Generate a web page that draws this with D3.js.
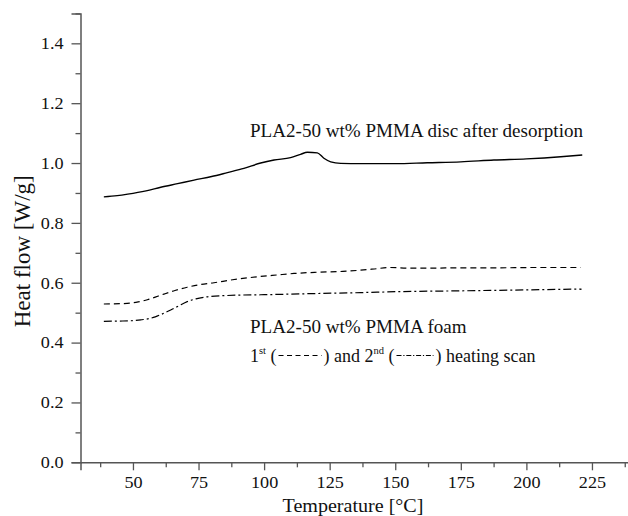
<!DOCTYPE html>
<html>
<head>
<meta charset="utf-8">
<script src="https://cdn.jsdelivr.net/npm/d3@7"></script>
<style>
  html, body { margin: 0; padding: 0; background: #fff; }
  svg { display: block; }
  text { font-family: "Liberation Serif", "Times New Roman", serif; fill: #111; }
</style>
</head>
<body>
<svg id="chart" width="628" height="516"></svg>
<script>
// DSC heating scans: temperature (°C) vs heat flow (W/g)
const discTemp = [38.9, 44, 48, 55, 60.6, 67, 73.3, 80, 86, 92.3, 98.7, 103.8, 110.1, 113.9, 116.5, 120.3, 122.8, 125.4, 129.2, 136.8, 150, 162.2, 175, 187.6, 200, 213.1, 221.3];
const discFlow = [0.887, 0.891, 0.896, 0.907, 0.919, 0.931, 0.943, 0.955, 0.968, 0.982, 1.000, 1.010, 1.018, 1.029, 1.036, 1.034, 1.016, 1.004, 0.999, 0.998, 0.998, 1.001, 1.004, 1.010, 1.014, 1.021, 1.027];

const foam1Temp = [38.9, 45, 49.1, 52, 55.5, 58.5, 61.8, 66, 70.7, 75, 80.9, 88, 98.7, 105, 111.4, 120, 130, 136.8, 142, 148, 155, 165, 175, 190, 205, 220.7];
const foam1Flow = [0.529, 0.530, 0.532, 0.536, 0.543, 0.552, 0.562, 0.574, 0.585, 0.593, 0.600, 0.610, 0.621, 0.626, 0.631, 0.635, 0.638, 0.642, 0.646, 0.651, 0.649, 0.649, 0.650, 0.650, 0.651, 0.651];

const foam2Temp = [38.9, 45, 49.1, 53, 56, 58.5, 61, 64.4, 67.5, 70.7, 74, 78.4, 85, 92, 100, 110, 120, 136.8, 150, 175, 200, 221];
const foam2Flow = [0.471, 0.472, 0.473, 0.476, 0.480, 0.486, 0.495, 0.509, 0.523, 0.537, 0.546, 0.553, 0.557, 0.559, 0.560, 0.562, 0.564, 0.567, 0.570, 0.573, 0.576, 0.579];

const xTicks = [50, 75, 100, 125, 150, 175, 200, 225];
const yTicks = [0.0, 0.2, 0.4, 0.6, 0.8, 1.0, 1.2, 1.4];

const svg = d3.select("#chart");
const axisColor = "#555";

const x = d3.scaleLinear().domain([30, 240]).range([80.5, 631.3]);
const y = d3.scaleLinear().domain([0, 1.5]).range([462.3, 13.4]);

// widen glyphs slightly around their anchor point
function widen(sel, sx) {
  sel.each(function () {
    const t = d3.select(this);
    const ax = +t.attr("x") || 0;
    t.attr("transform", `translate(${ax},0) scale(${sx},1) translate(${-ax},0)`);
  });
}

// minor ticks halfway between majors
const xMinor = d3.range(37.5, 240, 25);
const yMinor = d3.range(0.1, 1.51, 0.2);

// x axis
const gx = svg.append("g").attr("transform", `translate(0,${y(0)})`);
gx.call(d3.axisBottom(x).tickValues(xMinor).tickSize(5).tickFormat(""))
  .call(g => g.select(".domain").remove());
gx.append("g").call(d3.axisBottom(x).tickValues(xTicks).tickSize(8).tickPadding(6).tickFormat(d3.format("d")));
gx.selectAll("line").attr("stroke", axisColor).attr("stroke-width", 1.3);
gx.selectAll(".domain").attr("stroke", axisColor).attr("stroke-width", 1.5);
gx.selectAll("text").attr("font-size", 16.5).attr("font-family", "Liberation Serif").attr("fill", "#111")
  .call(widen, 1.1);

// y axis
const gy = svg.append("g").attr("transform", `translate(${x(30)},0)`);
gy.call(d3.axisLeft(y).tickValues(yMinor).tickSize(5).tickFormat(""))
  .call(g => g.select(".domain").remove());
gy.append("g").call(d3.axisLeft(y).tickValues(yTicks).tickSize(9).tickPadding(8).tickFormat(d3.format(".1f")));
gy.selectAll("line").attr("stroke", axisColor).attr("stroke-width", 1.3);
gy.selectAll(".domain").attr("stroke", axisColor).attr("stroke-width", 1.5);
gy.selectAll("text").attr("font-size", 16.5).attr("font-family", "Liberation Serif").attr("fill", "#111")
  .call(widen, 1.1);

// axis titles
svg.append("text")
  .attr("x", 353).attr("y", 512)
  .attr("text-anchor", "middle").attr("font-size", 19.5)
  .text("Temperature [°C]")
  .call(widen, 1.03);
svg.append("text")
  .attr("transform", `translate(30,${y(0.705)}) rotate(-90)`)
  .attr("text-anchor", "middle").attr("font-size", 23)
  .text("Heat flow [W/g]");

// curves
const line = d3.line().x(d => x(d[0])).y(d => y(d[1])).curve(d3.curveMonotoneX);
const series = [
  { t: discTemp, v: discFlow, dash: null, w: 1.4 },
  { t: foam1Temp, v: foam1Flow, dash: "6,4", w: 1.2 },
  { t: foam2Temp, v: foam2Flow, dash: "8,3,2,3", w: 1.2 }
];
series.forEach(s => {
  svg.append("path")
    .datum(d3.zip(s.t, s.v))
    .attr("d", line)
    .attr("fill", "none")
    .attr("stroke", "#000")
    .attr("stroke-width", s.w)
    .attr("stroke-dasharray", s.dash);
});

// annotations
const fs = 18;
const sxText = 1.06;
svg.append("text")
  .attr("x", 250).attr("y", 137)
  .attr("font-size", fs)
  .text("PLA2-50 wt% PMMA disc after desorption")
  .call(widen, sxText);
svg.append("text")
  .attr("x", 250).attr("y", 333)
  .attr("font-size", fs)
  .text("PLA2-50 wt% PMMA foam")
  .call(widen, sxText);

// second annotation line with inline line-style samples
const baseY = 361.5;
let cx = 250;
function word(str, size, dy) {
  const t = svg.append("text").attr("x", cx).attr("y", baseY + (dy || 0))
    .attr("font-size", size).text(str);
  cx += t.node().getComputedTextLength();
  return t;
}
function sample(len, dash) {
  svg.append("line")
    .attr("x1", cx + 2).attr("x2", cx + len - 2)
    .attr("y1", baseY - 6).attr("y2", baseY - 6)
    .attr("stroke", "#000").attr("stroke-width", 1.1)
    .attr("stroke-dasharray", dash);
  cx += len;
}
word("1", fs);
word("st", 10.5, -7.5);
word("\u00a0(", fs);
sample(47, "5,3.5");
word(") and 2", fs);
word("nd", 10.5, -7.5);
word("\u00a0(", fs);
sample(41, "5,1.8,1.2,1.8");
word(") heating scan", fs);
</script>
</body>
</html>
